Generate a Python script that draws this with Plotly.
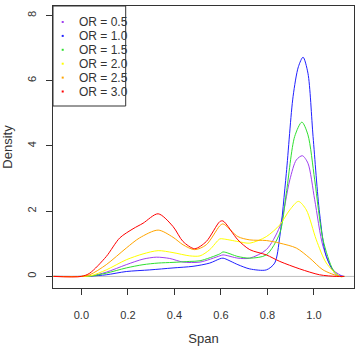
import plotly.graph_objects as go

labels = ["OR = 0.5", "OR = 1.0", "OR = 1.5", "OR = 2.0", "OR = 2.5", "OR = 3.0"]
colors = ["#A040F0", "#2020FF", "#30E030", "#FFFF00", "#FFA500", "#FF0000"]

span_red = [-0.12, 0.0, 0.036, 0.107, 0.165, 0.222, 0.265, 0.33, 0.394, 0.437, 0.487, 0.537, 0.595, 0.609, 0.673, 0.724, 0.795, 0.853, 0.939, 1.024, 1.096, 1.13]
dens_red = [0, 0, 0.1, 0.61, 1.18, 1.46, 1.63, 1.92, 1.53, 1.07, 0.85, 1.07, 1.68, 1.70, 1.12, 0.82, 0.66, 0.46, 0.23, 0.05, 0.0, 0]

span_orange = [-0.12, 0.0, 0.036, 0.107, 0.193, 0.25, 0.33, 0.394, 0.437, 0.487, 0.537, 0.595, 0.609, 0.673, 0.724, 0.795, 0.853, 0.924, 0.982, 1.039, 1.11, 1.13]
dens_orange = [0, 0, 0.05, 0.36, 0.87, 1.18, 1.42, 1.20, 0.97, 0.82, 0.97, 1.55, 1.61, 1.22, 1.12, 1.10, 1.02, 0.87, 0.56, 0.20, 0.0, 0]

span_yellow = [-0.12, 0.0, 0.04, 0.107, 0.193, 0.265, 0.33, 0.394, 0.466, 0.51, 0.552, 0.595, 0.609, 0.673, 0.724, 0.795, 0.853, 0.896, 0.933, 0.967, 1.01, 1.053, 1.11, 1.13]
dens_yellow = [0, 0, 0.02, 0.20, 0.51, 0.69, 0.79, 0.73, 0.63, 0.63, 0.82, 1.15, 1.15, 1.07, 1.02, 1.22, 1.58, 2.04, 2.30, 2.04, 1.12, 0.41, 0.0, 0]

span_purple = [-0.12, 0.0, 0.04, 0.107, 0.193, 0.265, 0.322, 0.38, 0.437, 0.51, 0.595, 0.609, 0.673, 0.724, 0.795, 0.853, 0.896, 0.924, 0.95, 0.974, 1.003, 1.039, 1.082, 1.125, 1.13]
dens_purple = [0, 0, 0.01, 0.13, 0.36, 0.53, 0.59, 0.55, 0.44, 0.44, 0.63, 0.66, 0.56, 0.56, 0.82, 1.53, 2.96, 3.57, 3.70, 3.47, 2.35, 0.92, 0.20, 0.0, 0]

span_green = [-0.12, 0.0, 0.04, 0.107, 0.193, 0.265, 0.33, 0.394, 0.466, 0.51, 0.595, 0.609, 0.673, 0.724, 0.795, 0.853, 0.881, 0.917, 0.948, 0.974, 1.003, 1.039, 1.082, 1.11, 1.13]
dens_green = [0, 0, 0.01, 0.10, 0.26, 0.36, 0.41, 0.43, 0.46, 0.48, 0.69, 0.75, 0.61, 0.56, 0.66, 1.33, 2.55, 4.29, 4.73, 4.34, 2.96, 1.12, 0.20, 0.0, 0]

span_blue = [-0.12, 0.0, 0.04, 0.107, 0.193, 0.294, 0.394, 0.48, 0.552, 0.595, 0.609, 0.673, 0.724, 0.795, 0.831, 0.853, 0.881, 0.91, 0.933, 0.953, 0.974, 0.996, 1.024, 1.053, 1.096, 1.13]
dens_blue = [0, 0, 0.01, 0.05, 0.15, 0.20, 0.26, 0.31, 0.41, 0.54, 0.56, 0.36, 0.23, 0.20, 0.41, 1.22, 3.16, 5.51, 6.43, 6.72, 6.23, 4.29, 1.94, 0.61, 0.05, 0]

x_ticks = [0.0, 0.2, 0.4, 0.6, 0.8, 1.0]
x_ticklabels = ["0.0", "0.2", "0.4", "0.6", "0.8", "1.0"]
y_ticks = [0, 2, 4, 6, 8]

series = [
    (span_purple, dens_purple),
    (span_blue, dens_blue),
    (span_green, dens_green),
    (span_yellow, dens_yellow),
    (span_orange, dens_orange),
    (span_red, dens_red),
]

fig = go.Figure()
for (xs, ys), c in zip(series, colors):
    fig.add_trace(go.Scatter(x=xs, y=ys, mode="lines", line=dict(color=c, width=1, shape="spline", smoothing=0.8),
                             showlegend=False, hoverinfo="skip"))

fig.add_shape(type="line", xref="paper", x0=0, x1=1, yref="y", y0=0, y1=0,
              line=dict(color="#BEBEBE", width=1), layer="below")

# manual legend (R style: box, tiny point keys, labels)
PW, PH = 301.0, 282.0
leg_right = (125.7 - 53) / PW
leg_bottom = 1 - (106 - 6) / PH
fig.add_shape(type="rect", xref="paper", yref="paper", x0=0, x1=leg_right, y0=leg_bottom, y1=1,
              line=dict(color="#333333", width=1), fillcolor="white", layer="above")
row0, rowstep = 22.0, 13.9
for i, (lab, c) in enumerate(zip(labels, colors)):
    py = row0 + i * rowstep
    yp = 1 - (py - 6) / PH
    xk = (62.7 - 53) / PW
    fig.add_shape(type="rect", xref="paper", yref="paper", x0=xk - 1 / PW, x1=xk + 1 / PW,
                  y0=yp - 1 / PH, y1=yp + 1 / PH, line=dict(width=0), fillcolor=c, layer="above")
    fig.add_annotation(text=lab, xref="paper", yref="paper", x=(77.0 - 53) / PW, y=yp,
                       xanchor="left", yanchor="middle", showarrow=False,
                       font=dict(family="Liberation Sans, Arial, sans-serif", size=12, color="#333333"))

font = dict(family="Liberation Sans, Arial, sans-serif", size=11, color="#333333")
fig.update_layout(
    width=360, height=356,
    margin=dict(l=53, r=6, t=6, b=68),
    plot_bgcolor="white", paper_bgcolor="white",
    font=font, showlegend=False,
    xaxis=dict(range=[-0.122, 1.172], tickvals=x_ticks, ticktext=x_ticklabels, showgrid=False, zeroline=False,
               showline=True, mirror=True, linecolor="#333333", linewidth=1, ticks="outside", ticklen=6,
               tickcolor="#333333", ticklabelstandoff=11, automargin=False,
               title=dict(text="Span", standoff=13)),
    yaxis=dict(range=[-0.355, 8.29], tickvals=y_ticks, showgrid=False, zeroline=False, tickangle=-90,
               showline=True, mirror=True, linecolor="#333333", linewidth=1, ticks="outside", ticklen=6,
               tickcolor="#333333", ticklabelstandoff=6, automargin=False,
               title=dict(text="Density", standoff=12)),
)

fig.write_html("out.html", config={"displayModeBar": False},
               post_script="document.body.style.margin='0';document.body.style.overflow='hidden';")
